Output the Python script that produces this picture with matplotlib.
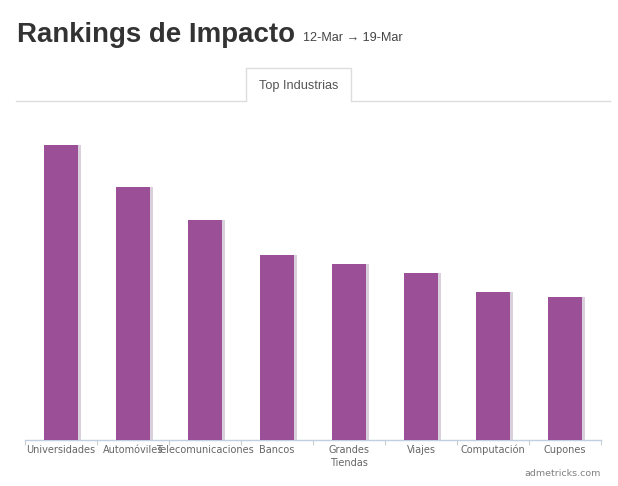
import matplotlib
matplotlib.use("Agg")
import matplotlib.pyplot as plt
from matplotlib.lines import Line2D
from matplotlib.patches import Polygon

plt.rcParams["font.family"] = ["Liberation Sans", "DejaVu Sans"]

W, H = 618, 486

categories = ["Universidades", "Automóviles", "Telecomunicaciones", "Bancos",
              "Grandes\nTiendas", "Viajes", "Computación", "Cupones"]
values = [295, 253, 220, 185, 176, 167, 148, 143]

PURPLE = "#9b4f96"
SHADOW = "#d9d0dc"
AXIS = "#c0d0e0"
GREY = "#dddddd"


def fx(px):
    return px / W


def fy(py):
    return 1 - py / H


fig = plt.figure(figsize=(W / 100, H / 100), dpi=100, facecolor="white")

# page header
fig.text(fx(17), fy(42), "Rankings de Impacto", fontsize=19.9, fontweight="bold",
         color="#333333", va="baseline")
fig.text(fx(303), fy(41), "12-Mar → 19-Mar", fontsize=9.1, color="#444444",
         va="baseline")

# tab strip
fig.add_artist(Line2D([fx(16), fx(246)], [fy(101), fy(101)], color=GREY, lw=1))
fig.add_artist(Line2D([fx(351), fx(610)], [fy(101), fy(101)], color=GREY, lw=1))
tab = [(246, 101), (246, 68), (351, 68), (351, 101)]
fig.add_artist(Polygon([(fx(x), fy(y)) for x, y in tab], closed=False,
                       fill=False, edgecolor=GREY, lw=1))
fig.text(fx(298.5), fy(86), "Top Industrias", fontsize=9.2, color="#555555",
         ha="center", va="center")

# chart
ax = fig.add_axes([fx(25), fy(440), fx(576), 320 / H])
x = list(range(len(categories)))
ax.bar([i + 2.5 / 72 for i in x], values, width=34 / 72, color=SHADOW, zorder=2)
ax.bar(x, values, width=34 / 72, color=PURPLE, zorder=3)
ax.set_xlim(-0.5, len(categories) - 0.5)
ax.set_ylim(0, 320)
ax.set_yticks([])
for s in ["top", "left", "right"]:
    ax.spines[s].set_visible(False)
ax.spines["bottom"].set_color(AXIS)
ax.spines["bottom"].set_linewidth(1)
ax.set_xticks([i - 0.5 for i in range(len(categories) + 1)])
ax.set_xticklabels([])
ax.tick_params(axis="x", length=3.6, width=0.8, color="#c8ccd0")
for i, name in enumerate(categories):
    ax.annotate(name, (i, 0), xycoords=("data", "axes fraction"),
                xytext=(0, -3.5), textcoords="offset points", ha="center",
                va="top", fontsize=7.0, color="#666666", linespacing=1.45,
                fontfamily="DejaVu Sans")

fig.text(fx(601), fy(473), "admetricks.com", fontsize=6.8, color="#808080",
         ha="right", va="center", fontfamily="DejaVu Sans")

fig.savefig("out.png", dpi=100)
